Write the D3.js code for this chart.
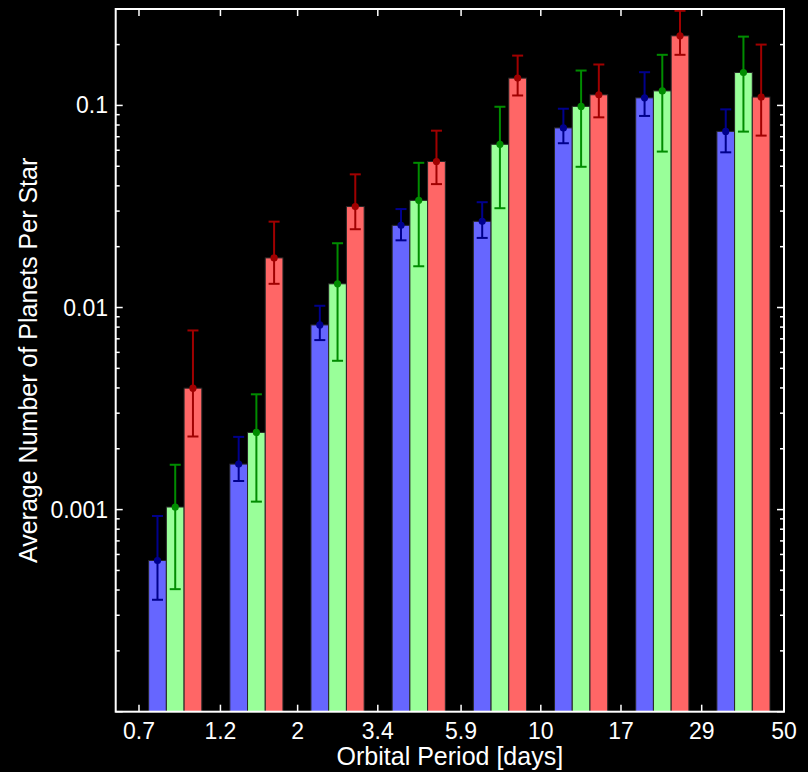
<!DOCTYPE html>
<html>
<head>
<meta charset="utf-8">
<script src="https://cdn.jsdelivr.net/npm/d3@7"></script>
<style>
  html, body { margin: 0; padding: 0; background: #000; }
  svg { display: block; }
  text { font-family: "Liberation Sans", Arial, Helvetica, sans-serif; fill: #fff; }
</style>
</head>
<body>
<svg id="chart" width="808" height="772"></svg>
<script>
// Period bin edges (days); bins are evenly spaced in log period
const binEdges = [0.68, 1.164, 1.991, 3.408, 5.832, 9.98, 17.08, 29.23, 50];
// Labelled period ticks on the x axis
const periodTicks = [0.7, 1.2, 2, 3.4, 5.9, 10, 17, 29, 50];
const periodTickLabels = ["0.7", "1.2", "2", "3.4", "5.9", "10", "17", "29", "50"];
// Labelled occurrence ticks on the y axis
const rateTicks = [0.001, 0.01, 0.1];
const rateTickLabels = ["0.001", "0.01", "0.1"];

// Planet occurrence per bin, with lower / upper error bounds
const blueVals = [5.6e-4, 1.68e-3, 8.2e-3, 0.0255, 0.0267, 0.0774, 0.109, 0.0744];
const blueLo   = [3.58e-4, 1.385e-3, 6.9e-3, 0.0215, 0.0221, 0.065, 0.0887, 0.0586];
const blueHi   = [9.3e-4, 2.29e-3, 0.0102, 0.0307, 0.0332, 0.0963, 0.146, 0.0956];

const greenVals = [1.03e-3, 2.41e-3, 0.0131, 0.0339, 0.0642, 0.0989, 0.118, 0.1455];
const greenLo   = [4.04e-4, 1.095e-3, 5.45e-3, 0.016, 0.031, 0.0497, 0.0591, 0.0742];
const greenHi   = [1.667e-3, 3.72e-3, 0.0208, 0.052, 0.0985, 0.1488, 0.178, 0.219];

const redVals = [3.99e-3, 0.0176, 0.0316, 0.0528, 0.1365, 0.1129, 0.221, 0.110];
const redLo   = [2.3e-3, 0.0131, 0.0244, 0.0408, 0.112, 0.0873, 0.178, 0.0709];
const redHi   = [7.7e-3, 0.0266, 0.0456, 0.075, 0.1764, 0.1594, 0.294, 0.2];

const series = [
  { key: "blue",  vals: blueVals,  lo: blueLo,  hi: blueHi,  fill: "#6666ff", err: "#00008c" },
  { key: "green", vals: greenVals, lo: greenLo, hi: greenHi, fill: "#99ff99", err: "#008c00" },
  { key: "red",   vals: redVals,   lo: redLo,   hi: redHi,   fill: "#ff6666", err: "#a00000" }
];

const svg = d3.select("#chart");
const plotL = 115.7, plotR = 784, plotT = 9, plotB = 711.7;

const x = d3.scaleLog().domain([0.6, 50]).range([plotL, plotR]);
const y = d3.scaleLog().domain([1e-4, 0.3]).range([plotB, plotT]);

const groupFrac = 0.655;
const plot = svg.append("g");

// Bars and error bars for each period bin
for (let i = 0; i < binEdges.length - 1; i++) {
  const x0 = x(binEdges[i]), x1 = x(binEdges[i + 1]);
  const w = x1 - x0;
  const inner = d3.scaleBand()
    .domain(series.map(s => s.key))
    .range([x0 + w * (1 - groupFrac) / 2, x1 - w * (1 - groupFrac) / 2]);
  series.forEach(s => {
    const bx = inner(s.key), bw = inner.bandwidth();
    plot.append("rect")
      .attr("x", bx).attr("width", bw)
      .attr("y", y(s.vals[i])).attr("height", plotB - y(s.vals[i]))
      .attr("fill", s.fill)
      .attr("stroke", "#262626").attr("stroke-width", 1);
  });
  series.forEach(s => {
    const cx = inner(s.key) + inner.bandwidth() / 2;
    const g = plot.append("g").attr("stroke", s.err).attr("stroke-width", 2);
    g.append("line").attr("x1", cx).attr("x2", cx)
      .attr("y1", y(s.lo[i])).attr("y2", y(s.hi[i]));
    [s.lo[i], s.hi[i]].forEach(v => {
      g.append("line").attr("x1", cx - 5.5).attr("x2", cx + 5.5)
        .attr("y1", y(v)).attr("y2", y(v));
    });
    plot.append("circle").attr("cx", cx).attr("cy", y(s.vals[i]))
      .attr("r", 3.6).attr("fill", s.err);
  });
}

// Frame and ticks
const axes = svg.append("g").attr("stroke", "#fff").attr("fill", "none");
axes.append("rect").attr("x", plotL).attr("y", plotT)
  .attr("width", plotR - plotL).attr("height", plotB - plotT)
  .attr("stroke-width", 2);

// y ticks (major and minor), drawn inward on both sides
const yTickVals = y.ticks();
yTickVals.forEach(v => {
  const isMajor = Math.abs(Math.log10(v) - Math.round(Math.log10(v))) < 1e-9;
  const len = isMajor ? 7 : 4;
  const yy = y(v);
  if (yy < plotT || yy > plotB) return;
  axes.append("line").attr("x1", plotL).attr("x2", plotL + len)
    .attr("y1", yy).attr("y2", yy).attr("stroke-width", 1.5);
  axes.append("line").attr("x1", plotR).attr("x2", plotR - len)
    .attr("y1", yy).attr("y2", yy).attr("stroke-width", 1.5);
});

// x ticks at labelled periods, top and bottom, drawn inward
periodTicks.forEach(p => {
  const xx = x(p);
  axes.append("line").attr("x1", xx).attr("x2", xx)
    .attr("y1", plotB).attr("y2", plotB - 7).attr("stroke-width", 1.5);
  axes.append("line").attr("x1", xx).attr("x2", xx)
    .attr("y1", plotT).attr("y2", plotT + 7).attr("stroke-width", 1.5);
});

// Tick labels
svg.append("g").selectAll("text").data(periodTicks).join("text")
  .attr("x", d => x(d)).attr("y", 739)
  .attr("text-anchor", "middle").attr("font-size", 23)
  .text((d, i) => periodTickLabels[i]);

svg.append("g").selectAll("text").data(rateTicks).join("text")
  .attr("x", 108).attr("y", d => y(d) + 8)
  .attr("text-anchor", "end").attr("font-size", 23)
  .text((d, i) => rateTickLabels[i]);

// Axis titles
svg.append("text")
  .attr("x", (plotL + plotR) / 2).attr("y", 765)
  .attr("text-anchor", "middle").attr("font-size", 25)
  .text("Orbital Period [days]");

svg.append("text")
  .attr("transform", `translate(37, ${(plotT + plotB) / 2}) rotate(-90)`)
  .attr("text-anchor", "middle").attr("font-size", 25)
  .text("Average Number of Planets Per Star");
</script>
</body>
</html>
